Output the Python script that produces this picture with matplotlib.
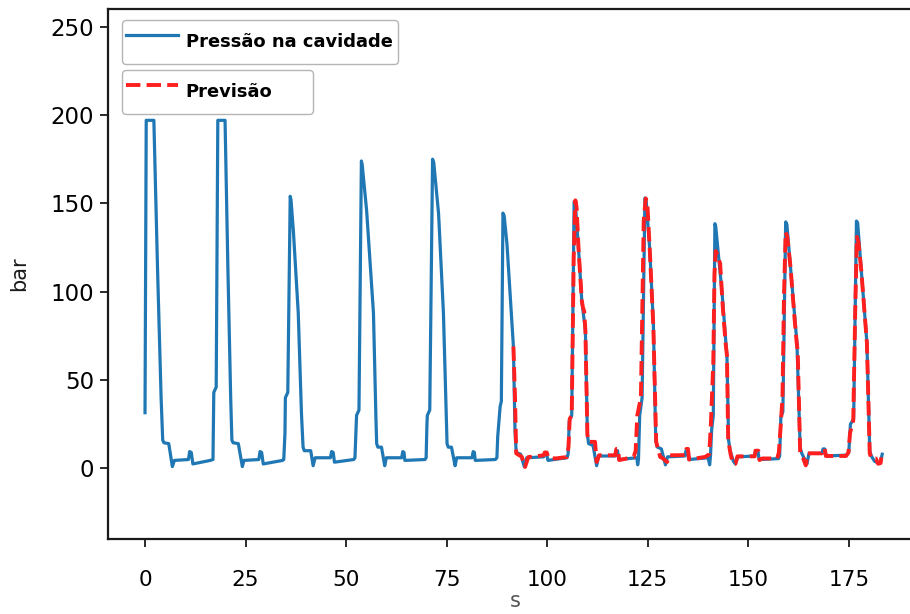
import matplotlib
matplotlib.use("Agg")
import matplotlib.pyplot as plt

# cavity pressure (bar) over time (s)
pressao_t = [
    0.0, 0.3, 2.2, 3.1, 4.0, 4.4, 4.7, 5.9, 6.8, 7.3, 10.8, 11.1, 11.5, 11.9, 16.2,
    16.9, 17.0, 17.1, 17.7, 18.1, 19.9, 20.6, 21.3, 21.6, 21.9, 23.2, 24.2, 24.6, 28.3, 28.6, 29.0, 29.4, 34.2,
    34.5, 34.8, 34.9, 35.5, 36.1, 36.3, 36.9, 38.1, 38.9, 39.3, 39.6, 41.2, 41.8, 42.3, 46.1, 46.4, 46.8, 47.1, 51.9,
    52.2, 52.5, 52.6, 53.2, 53.8, 54.0, 55.1, 56.8, 57.4, 57.6, 57.9, 58.8, 59.6, 60.0, 63.8, 64.1, 64.4, 64.6, 69.6,
    69.9, 70.1, 70.2, 70.8, 71.5, 71.8, 73.0, 74.2, 74.9, 75.1, 75.4, 76.2, 77.1, 77.5, 81.3, 81.6, 81.9, 82.1, 87.1,
    87.5, 87.7, 88.3, 88.6, 89.0, 89.3, 90.0, 91.6, 92.0, 92.3, 93.4, 94.3, 94.9, 99.1, 99.4, 99.8, 100.2, 104.9,
    105.2, 105.5, 106.1, 106.7, 107.0, 107.8, 108.6, 109.5, 110.0, 110.3, 111.4, 112.3, 112.8, 116.9, 117.2, 117.5, 117.8, 122.3, 122.5,
    122.7, 123.0, 123.6, 124.3, 124.6, 125.5, 126.4, 127.0, 127.4, 128.4, 129.4, 129.9, 134.2, 134.5, 134.8, 135.2, 140.0, 140.4,
    140.6, 140.9, 141.3, 141.7, 141.9, 143.5, 144.7, 145.1, 145.5, 146.3, 146.8, 147.4, 151.6, 151.8, 152.4, 152.7, 157.5,
    157.8, 158.1, 158.6, 159.3, 159.6, 160.5, 162.1, 162.9, 163.3, 164.6, 165.1, 168.3, 168.6, 169.0, 169.4, 174.5,
    175.0, 175.4, 176.2, 176.9, 177.2, 178.0, 179.5, 180.2, 180.6, 181.4, 182.3, 182.8, 183.3,
]
pressao_v = [
    31.5, 197, 197, 114, 40, 16, 14.5, 14, 1, 4.5, 5, 9.5, 9, 2.5, 4.5,
    5, 25, 43, 46, 197, 197, 114, 40, 16, 14.5, 14, 1, 4.5, 5, 9.5, 9, 2.5, 4.5,
    5, 20, 40, 43, 154, 152, 134, 88, 31, 12, 10, 10, 1.5, 6, 6, 9.5, 9, 3.5, 5,
    6, 24, 30, 33, 174, 172, 146, 88, 30, 14, 12, 12, 1.5, 6, 6, 9.5, 9, 4.5, 5,
    6, 25, 30, 33, 175, 173, 144, 88, 30, 14, 12, 12, 1.5, 6, 6, 9.5, 9, 4.5, 5,
    6, 18, 35, 38, 144.5, 143, 127, 69, 21, 9, 8, 1, 6, 6.5, 9, 8.5, 4.5, 6,
    8, 27, 30, 151, 150, 124, 95, 78, 19, 14, 13, 1.5, 7, 7, 10, 10, 5, 6, 2,
    5, 30, 40, 153, 152, 124, 82, 16, 12, 11, 2, 6.5, 7, 10, 10, 5, 6, 2,
    7, 22, 30, 138.5, 137, 99, 63, 16, 10, 4, 2.5, 6.5, 7, 10, 10, 5, 5.5,
    7, 29, 32, 139.5, 138, 114, 71, 12, 8.5, 2.5, 8.5, 8.5, 11, 11, 7, 7.5,
    9, 25, 28, 140, 139, 115, 71, 10, 7, 4, 3, 3, 8,
]

# model forecast
previsao_t = [
    91.6, 92.0, 92.3, 93.7, 94.5, 95.3, 99.1, 99.4, 99.9, 100.3, 102.0, 104.9,
    105.3, 105.6, 106.1, 106.6, 107.0, 107.3, 107.8, 108.6, 108.9, 109.2, 109.5, 110.0, 110.3, 111.9,
    112.3, 112.9, 116.9, 117.2, 117.6, 117.9, 121.5,
    122.0, 122.4, 123.3, 124.0, 124.5, 124.9, 125.5, 126.4, 127.1, 128.1, 128.6,
    129.8, 130.3, 134.3, 134.6, 135.0, 135.3, 139.3,
    140.3, 140.7, 141.3, 141.6, 141.9, 142.3, 143.0, 143.7, 144.4, 144.7, 145.0, 145.6,
    146.2, 146.8, 147.3, 151.6, 151.8, 152.5, 152.8, 153.5, 157.2,
    157.6, 158.0, 158.5, 158.9, 159.3, 159.7, 160.5, 161.5, 162.0, 162.3, 162.9, 163.6,
    164.3, 164.8, 168.3, 168.5, 169.0, 169.3, 174.3,
    174.9, 175.3, 176.1, 176.6, 177.0, 177.4, 178.1, 179.5, 180.2, 180.6, 181.7,
    182.3, 182.9, 183.2,
]
previsao_v = [
    69, 40, 8.5, 6.5, 0.8, 6.4, 7.4, 9, 9, 6, 5.6, 6.4,
    12, 28, 30, 120, 151.7, 148, 124, 95, 91, 89, 78, 19, 15, 15,
    3.6, 7.4, 7.4, 11, 11, 4.7, 6.4,
    10, 30, 40, 140, 152.8, 150, 124, 80, 15, 6.4, 6,
    3.6, 7.4, 7.5, 11, 11, 5, 6.5,
    8, 25, 60, 110, 123, 121, 116, 90, 70, 64, 16, 8,
    2.6, 2.6, 6.8, 6.8, 10, 10, 4.7, 5.6, 5.6,
    9, 22, 40, 100, 133.7, 131, 114, 85, 72, 66, 8.5, 6,
    1.7, 8.5, 8.5, 11, 11, 7, 7,
    9, 20, 27, 90, 131, 128, 112, 71, 8.5, 5.6, 5.6,
    2.6, 3, 8,
]

fig = plt.figure(figsize=(9.1, 6.14), dpi=100)
ax = fig.add_axes([0.1187, 0.1221, 0.8945, 0.8632])

l1, = ax.plot(pressao_t, pressao_v, color="#1f77b4", lw=2.3, label="Pressão na cavidade")
l2, = ax.plot(previsao_t, previsao_v, color="#ff1f1f", lw=2.8, ls="--", label="Previsão")

ax.set_xlim(-9.2, 193.2)
ax.set_ylim(-40, 260)
ax.set_xticks([0, 25, 50, 75, 100, 125, 150, 175])
ax.set_yticks([0, 50, 100, 150, 200, 250])

for s in ax.spines.values():
    s.set_linewidth(1.6)
    s.set_color("#1a1a1a")

ax.tick_params(axis="both", length=6, width=1.3, color="#1a1a1a")
ax.tick_params(axis="y", labelsize=16.5, pad=4)
ax.tick_params(axis="x", labelsize=15.5, pad=16)

ax.set_xlabel("s", fontsize=15, color="#555555", labelpad=1)
ax.set_ylabel("bar", fontsize=15, color="#1a1a1a", labelpad=15)

W, H = 910, 614
leg_font = {"family": "DejaVu Sans", "weight": "bold", "size": 12.9}
leg_opts = dict(loc="upper left", mode="expand", bbox_transform=fig.transFigure,
                borderaxespad=0, prop=leg_font, handlelength=2.9, handletextpad=0.45,
                borderpad=0.2, handleheight=2.75, edgecolor="#b5b5b5", framealpha=1.0)
leg1 = ax.legend(handles=[l1], bbox_to_anchor=(122 / W, 1 - 65 / H, 276 / W, 45 / H), **leg_opts)
ax.add_artist(leg1)
leg2 = ax.legend(handles=[l2], bbox_to_anchor=(122 / W, 1 - 112 / H, 191 / W, 42 / H), **leg_opts)

fig.savefig("out.png", dpi=100)
